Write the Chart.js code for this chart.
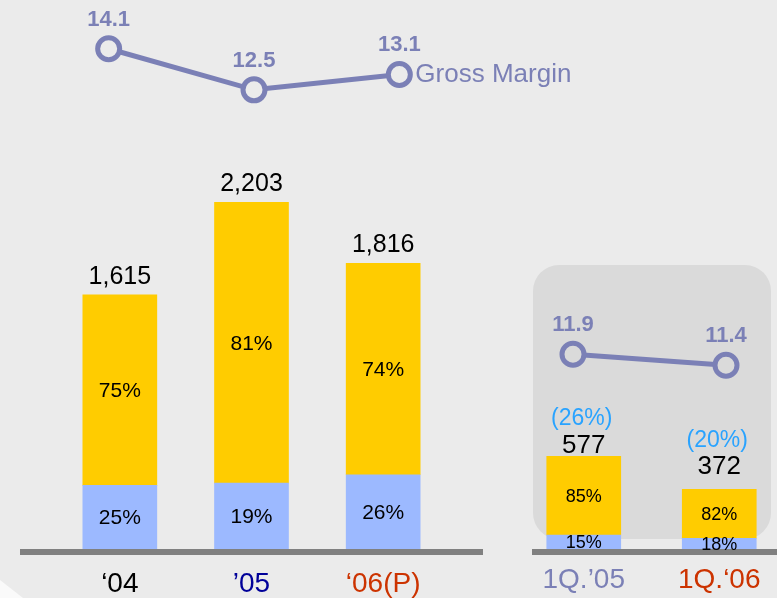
<!DOCTYPE html>
<html>
<head>
<meta charset="utf-8">
<script src="https://cdn.jsdelivr.net/npm/chart.js@4.4.1/dist/chart.umd.min.js"></script>
<style>
html, body { margin: 0; padding: 0; }
#wrap { position: relative; width: 777px; height: 598px; overflow: hidden; background: #ebebeb; }
canvas { position: absolute; }
#qbox { position: absolute; left: 533px; top: 265px; width: 238px; height: 274px; background: #dadada; border-radius: 26px; }
#corner { position: absolute; left: 0; top: 578px; width: 24px; height: 20px; background: #fafafa; clip-path: polygon(0 2px, 23px 20px, 0 20px); }
</style>
</head>
<body>
<div id="wrap">
  <div id="qbox"></div>
  <div id="corner"></div>
  <canvas id="yearBars" width="500" height="598" style="left:0;top:0"></canvas>
  <canvas id="qBars" width="300" height="598" style="left:500px;top:0"></canvas>
  <canvas id="yearLine" width="777" height="154" style="left:0;top:0"></canvas>
  <canvas id="qLine" width="277" height="99" style="left:500px;top:297px"></canvas>
</div>
<script>
// annual figures
const years = ['‘04', '’05', '‘06(P)'];
const yearColors = ['#000000', '#000099', '#cc3300'];
const yearTotals = [1615, 2203, 1816];
const yearLower = [404, 419, 472];     // blue part
const yearUpper = [1211, 1784, 1344];  // yellow part
const yearLowerPct = [25, 19, 26];
const yearUpperPct = [75, 81, 74];
const yearMargin = [14.1, 12.5, 13.1];

// first quarter figures
const quarters = ['1Q.’05', '1Q.‘06'];
const quarterColors = ['#7b80b6', '#cc3300'];
const quarterTotals = [577, 372];
const quarterLower = [87, 67];
const quarterUpper = [490, 305];
const quarterLowerPct = [15, 18];
const quarterUpperPct = [85, 82];
const quarterGrowth = ['(26%)', '(20%)'];
const quarterMargin = [11.9, 11.4];

const FONT = '"Liberation Sans", Arial, sans-serif';
const lineColor = '#7b80b6';
const blue = '#9cb9ff';
const yellow = '#ffcc00';

// grey base line under the bars
const baseline = {
  id: 'baseline',
  beforeDatasetsDraw(chart, args, opts) {
    const ctx = chart.ctx;
    const y = chart.chartArea.bottom + 3;
    ctx.save();
    ctx.strokeStyle = '#808080';
    ctx.lineWidth = 6;
    ctx.beginPath();
    ctx.moveTo(opts.from, y);
    ctx.lineTo(opts.to, y);
    ctx.stroke();
    ctx.restore();
  }
};

// totals above bars and shares inside them
const barText = {
  id: 'barText',
  afterDatasetsDraw(chart, args, opts) {
    const ctx = chart.ctx;
    const lower = chart.getDatasetMeta(0).data;
    const upper = chart.getDatasetMeta(1).data;
    ctx.save();
    ctx.textAlign = 'center';
    ctx.fillStyle = '#000';
    ctx.textBaseline = 'middle';
    ctx.font = opts.pctSize + 'px ' + FONT;
    lower.forEach((bar, i) => {
      ctx.fillText(opts.lowerPct[i] + '%', bar.x, (bar.y + bar.base) / 2 + 1);
    });
    upper.forEach((bar, i) => {
      ctx.fillText(opts.upperPct[i] + '%', bar.x, (bar.y + bar.base) / 2 + 1);
    });
    ctx.textBaseline = 'alphabetic';
    upper.forEach((bar, i) => {
      ctx.fillStyle = '#000';
      ctx.font = opts.totalSize + 'px ' + FONT;
      ctx.fillText(opts.totals[i].toLocaleString('en-US'), bar.x, bar.y - opts.totalLift[i]);
      if (opts.growth) {
        ctx.fillStyle = '#29a3ff';
        ctx.font = '23px ' + FONT;
        ctx.fillText(opts.growth[i], bar.x - 2, bar.y - opts.growthLift[i]);
      }
    });
    ctx.restore();
  }
};

// margin values over the points
const lineText = {
  id: 'lineText',
  afterDatasetsDraw(chart, args, opts) {
    const ctx = chart.ctx;
    const pts = chart.getDatasetMeta(0).data;
    const vals = chart.data.datasets[0].data;
    ctx.save();
    ctx.fillStyle = lineColor;
    ctx.textAlign = 'center';
    ctx.textBaseline = 'middle';
    ctx.font = 'bold 22px ' + FONT;
    pts.forEach((p, i) => ctx.fillText(vals[i].toFixed(1), p.x, p.y - 29));
    if (opts.name) {
      const last = pts[pts.length - 1];
      ctx.font = '26px ' + FONT;
      ctx.textAlign = 'left';
      ctx.fillText(opts.name, last.x + 16, last.y);
    }
    ctx.restore();
  }
};

function barChart(id, labels, colors, lower, upper, padding, max, tickPad, textOpts, baseOpts) {
  return new Chart(document.getElementById(id), {
    type: 'bar',
    data: {
      labels: labels,
      datasets: [
        { data: lower, backgroundColor: blue, barThickness: 74 },
        { data: upper, backgroundColor: yellow, barThickness: 74 }
      ]
    },
    options: {
      responsive: false,
      animation: false,
      layout: { padding: padding, autoPadding: false },
      plugins: {
        legend: { display: false },
        tooltip: { enabled: false },
        barText: textOpts,
        baseline: baseOpts
      },
      scales: {
        x: {
          stacked: true,
          grid: { display: false, drawTicks: false },
          border: { display: false },
          ticks: {
            color: c => colors[c.index],
            font: { family: FONT, size: 28, lineHeight: 1 },
            padding: tickPad
          },
          afterFit: s => { s.height = 49; }
        },
        y: { stacked: true, display: false, min: 0, max: max }
      }
    },
    plugins: [baseline, barText]
  });
}

function lineChart(id, labels, values, padding, min, max, offset, fill, name) {
  return new Chart(document.getElementById(id), {
    type: 'line',
    data: {
      labels: labels,
      datasets: [{
        data: values,
        borderColor: lineColor,
        borderWidth: 5,
        pointRadius: 11,
        pointBorderWidth: 5,
        pointBorderColor: lineColor,
        pointBackgroundColor: fill,
        tension: 0,
        clip: false
      }]
    },
    options: {
      responsive: false,
      animation: false,
      layout: { padding: padding, autoPadding: false },
      plugins: {
        legend: { display: false },
        tooltip: { enabled: false },
        lineText: { name: name }
      },
      scales: {
        x: { display: false, offset: offset },
        y: { display: false, min: min, max: max }
      }
    },
    plugins: [lineText]
  });
}

barChart('yearBars', years, yearColors, yearLower, yearUpper,
  { top: 140, left: 54, right: 51, bottom: 0 }, 2600, 21,
  { totals: yearTotals, lowerPct: yearLowerPct, upperPct: yearUpperPct,
    totalLift: [11, 11, 11], pctSize: 21, totalSize: 25 },
  { from: 20, to: 483 });

barChart('qBars', quarters, quarterColors, quarterLower, quarterUpper,
  { top: 292, left: 16, right: 13, bottom: 0 }, 1600, 17,
  { totals: quarterTotals, lowerPct: quarterLowerPct, upperPct: quarterUpperPct,
    totalLift: [3, 15], growth: quarterGrowth, growthLift: [31, 42], pctSize: 18, totalSize: 26 },
  { from: 32, to: 300 });

lineChart('yearLine', years, yearMargin, { left: 36, right: 305, top: 0, bottom: 0 },
  10, 16, true, '#ebebeb', 'Gross Margin');

lineChart('qLine', quarters, quarterMargin, { left: 73, right: 51, top: 0, bottom: 0 },
  10, 14.5, false, '#dadada', null);
</script>
</body>
</html>
